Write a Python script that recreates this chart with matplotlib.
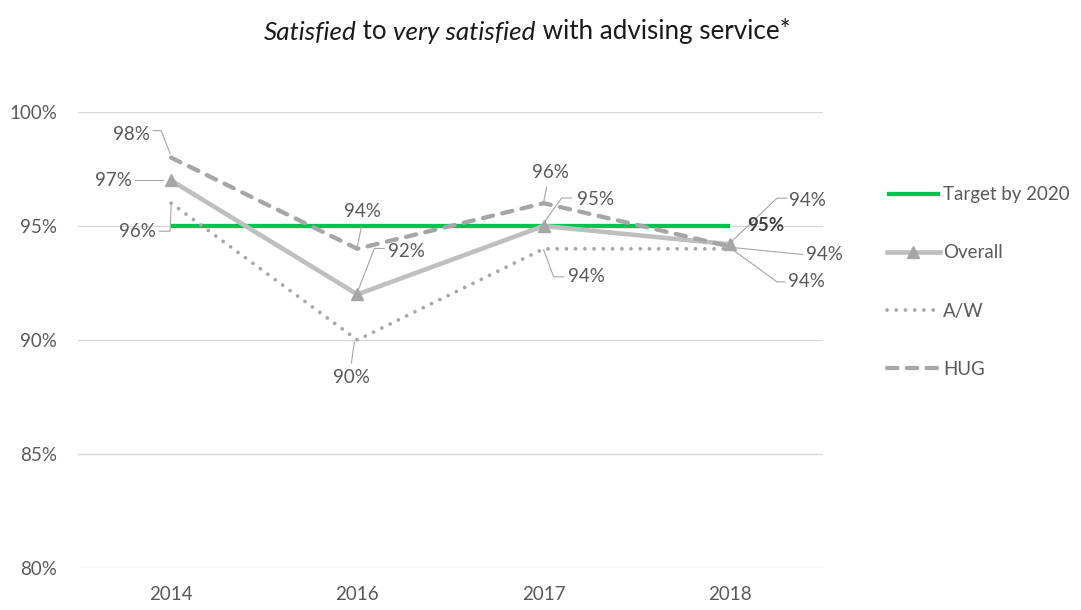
import matplotlib
matplotlib.use("Agg")
import matplotlib.pyplot as plt
from matplotlib.lines import Line2D
from matplotlib.transforms import Affine2D, ScaledTranslation

plt.rcParams['font.family'] = ['Lato', 'DejaVu Sans']

# ---- data ----
years = ["2014", "2016", "2017", "2018"]
target = [95, 95, 95, 95]
overall = [97, 92, 95, 94.2]
aw = [96, 90, 94, 94]
hug = [98, 94, 96, 94.1]
yticks = [80, 85, 90, 95, 100]

GREEN = "#00C44F"
LIGHT = "#BFBFBF"
MID = "#A6A6A6"
TXT = "#595959"
FS = 13.5

fig = plt.figure(figsize=(10.81, 6.10), dpi=100)
ax = fig.add_axes([78 / 1081, 1 - 568 / 610, (823 - 78) / 1081, (568 - 112) / 610])

x = list(range(len(years)))

ax.plot(x, target, color=GREEN, lw=3.1, solid_capstyle='butt', zorder=3,
        label="Target by 2020")
ax.plot(x, overall, color=LIGHT, lw=3.3, marker='^', markersize=8,
        markerfacecolor=MID, markeredgecolor=MID, zorder=4, label="Overall")
ax.plot(x, aw, color=MID, lw=2.7, linestyle=(0, (0.01, 2.45)),
        dash_capstyle='round', zorder=4, label="A/W")
ax.plot(x, hug, color=MID, lw=3.1, linestyle=(0, (2.4, 2.2)),
        dash_capstyle='round', zorder=4, label="HUG")

ax.set_xlim(-0.5, len(years) - 0.5)
ax.set_ylim(80, 100)
ax.set_xticks(x)
ax.set_xticklabels(years)
ax.set_yticks(yticks)
ax.set_yticklabels([f"{v}%" for v in yticks])
ax.tick_params(length=0, labelsize=FS, labelcolor=TXT)
ax.tick_params(axis='y', pad=15)
ax.tick_params(axis='x', pad=13)
ax.grid(axis='y', color="#D9D9D9", lw=1.0)
ax.set_axisbelow(True)
for s in ax.spines.values():
    s.set_visible(False)

# ---- data labels with leader lines (offsets in pixels from the point) ----
labels = [
    (hug, 0, (-40, 23), [(-18, 27), (-10, 27), (-1, 4)]),
    (overall, 0, (-58, 0), [(-36, 0), (-8, 0)]),
    (aw, 0, (-34, -28), [(-12, -28), (-1, -28), (0, -1)]),
    (hug, 1, (5, 37), [(4, 22), (0, 2)]),
    (overall, 1, (49, 43), [(27, 46), (17, 46), (0, 2)]),
    (aw, 1, (-6, -38), [(-6, -23), (-3, -2)]),
    (hug, 2, (7, 31), [(3, 16), (0, 1)]),
    (overall, 2, (52, 26), [(28, 28), (18, 28), (0, 3)]),
    (aw, 2, (43, -28), [(20, -28), (10, -28), (0, -1)]),
    (overall, 3, (78, 44), [(57, 46), (47, 46), (1, 2)]),
    (hug, 3, (95, -8), [(73, -8), (3, -1)]),
    (aw, 3, (77, -33), [(55, -33), (47, -33), (3, -1)]),
]

for series, i, (tx, ty), path in labels:
    v = series[i]
    ax.annotate(f"{v:.0f}%", xy=(i, v), xytext=(tx, ty),
                textcoords='offset pixels', ha='center', va='center',
                fontsize=FS, color=TXT, zorder=6)
    tr = Affine2D() + ScaledTranslation(i, v, ax.transData)
    xs = [p[0] for p in path]
    ys = [p[1] for p in path]
    ax.add_line(Line2D(xs, ys, transform=tr, color=MID, lw=0.8, zorder=5,
                       clip_on=False))

# target value at the end of the line
ax.annotate(f"{target[-1]:.0f}%", xy=(x[-1], target[-1]), xytext=(17, 0),
            textcoords='offset pixels', ha='left', va='center',
            fontsize=FS, color="#404040", fontweight='bold', zorder=6)

# ---- legend ----
leg = fig.legend(loc='center left', bbox_to_anchor=(887 / 1081, 1 - 282 / 610),
                 frameon=False, fontsize=FS, handlelength=2.8,
                 handletextpad=0.2, labelspacing=2.2, borderaxespad=0,
                 borderpad=0)
for t in leg.get_texts():
    t.set_color(TXT)

# ---- title with italic parts ----
pieces = [("Satisfied", 'italic'), (" to ", 'normal'),
          ("very satisfied", 'italic'), (" with advising service*", 'normal')]
tfs = 18.7
ty = 1 - 44 / 610
arts = []
for txt, st in pieces:
    arts.append(fig.text(0, ty, txt, style=st, fontsize=tfs, color="#1a1a1a",
                         ha='left', va='bottom'))
fig.canvas.draw()
r = fig.canvas.get_renderer()
widths = [a.get_window_extent(r).width for a in arts]
x0 = 527 - sum(widths) / 2
for a, w in zip(arts, widths):
    a.set_position((x0 / 1081, ty))
    x0 += w

fig.savefig("out.png", dpi=100)
